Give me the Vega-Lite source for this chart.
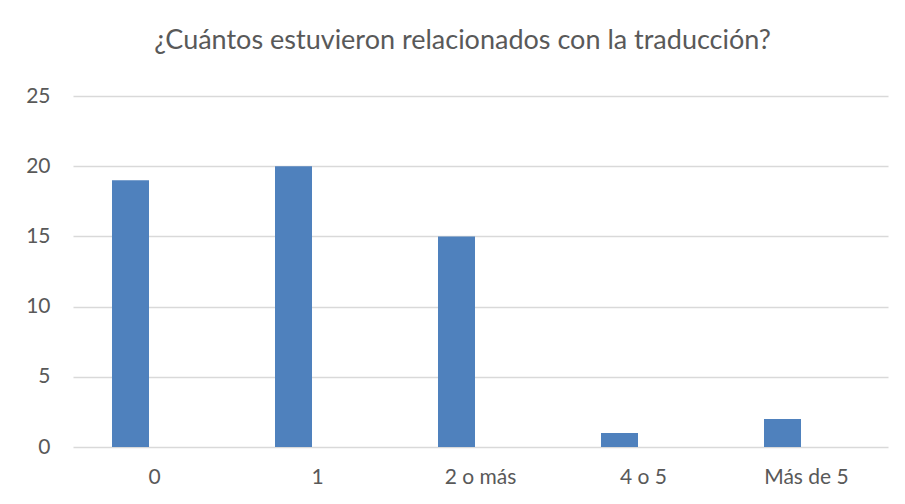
{
  "$schema": "https://vega.github.io/schema/vega-lite/v6.json",
  "width": 815,
  "height": 351,
  "autosize": {"type": "none"},
  "padding": {"left": 73, "top": 96, "right": 17, "bottom": 57},
  "background": "white",
  "title": {
    "text": "¿Cuántos estuvieron relacionados con la traducción?",
    "font": "Lato",
    "fontSize": 27,
    "fontWeight": "normal",
    "color": "#595959",
    "anchor": "middle",
    "frame": "group",
    "baseline": "alphabetic",
    "offset": 9,
    "dx": -18
  },
  "data": {
    "values": [
      {"categoria": "0", "serie": "A", "valor": 19},
      {"categoria": "1", "serie": "A", "valor": 20},
      {"categoria": "2 o más", "serie": "A", "valor": 15},
      {"categoria": "4 o 5", "serie": "A", "valor": 1},
      {"categoria": "Más de 5", "serie": "A", "valor": 2}
    ]
  },
  "mark": {"type": "bar", "color": "#4F81BD"},
  "encoding": {
    "x": {
      "field": "categoria",
      "type": "nominal",
      "sort": null,
      "scale": {"paddingInner": 0, "paddingOuter": 0},
      "axis": {
        "title": null,
        "labelAngle": 0,
        "labelFont": "Lato",
        "labelFontSize": 21,
        "labelColor": "#595959",
        "labelPadding": 19,
        "ticks": false,
        "domain": false,
        "grid": false
      }
    },
    "xOffset": {
      "field": "serie",
      "type": "nominal",
      "scale": {"domain": ["A", "B"], "paddingInner": 0.229, "paddingOuter": 0.8125}
    },
    "y": {
      "field": "valor",
      "type": "quantitative",
      "scale": {"domain": [0, 25]},
      "axis": {
        "title": null,
        "values": [0, 5, 10, 15, 20, 25],
        "labelFont": "Lato",
        "labelFontSize": 21,
        "labelColor": "#595959",
        "labelPadding": 23,
        "ticks": false,
        "domain": false,
        "grid": true,
        "gridColor": "#D9D9D9",
        "gridWidth": 1.3
      }
    }
  },
  "config": {"view": {"stroke": null}}
}
